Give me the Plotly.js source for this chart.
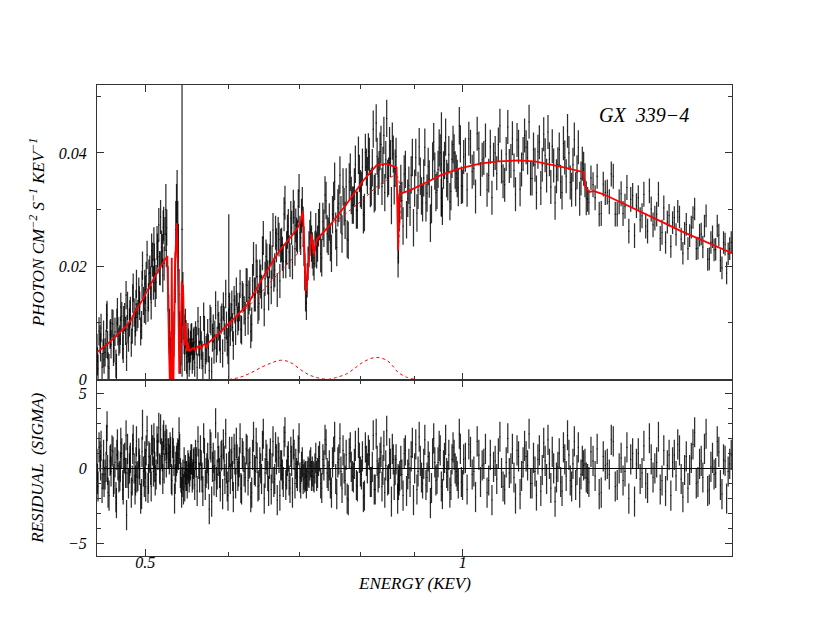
<!DOCTYPE html>
<html>
<head>
<meta charset="utf-8">
<script src="https://cdn.plot.ly/plotly-3.0.1.min.js"></script>
<style>
  body { margin: 0; background: #fff; }
  #spectrum { width: 830px; height: 642px; }
</style>
</head>
<body>
<div id="spectrum"></div>
<script>
// spectral bins, first grating: energy (keV), flux (photon cm^-2 s^-1 keV^-1), 1-sigma error, residual (sigma)
const binEnergy = [
    0.450, 0.451, 0.453, 0.454, 0.456, 0.457, 0.459, 0.460, 0.461, 0.463,
    0.464, 0.466, 0.467, 0.469, 0.470, 0.471, 0.473, 0.474, 0.476, 0.477,
    0.479, 0.480, 0.481, 0.483, 0.484, 0.486, 0.487, 0.489, 0.490, 0.491,
    0.493, 0.494, 0.496, 0.497, 0.499, 0.500, 0.501, 0.503, 0.504, 0.506,
    0.507, 0.509, 0.510, 0.511, 0.513, 0.514, 0.516, 0.517, 0.519, 0.520,
    0.521, 0.523, 0.524,
    0.5255, 0.527, 0.5285, 0.530, 0.5315, 0.533, 0.5345, 0.536, 0.5375, 0.539,
    0.5405, 0.542, 0.5435, 0.545, 0.5465, 0.548, 0.5495, 0.551, 0.5525, 0.554,
    0.5555,
    0.557, 0.559, 0.561, 0.563, 0.565, 0.567, 0.569, 0.571, 0.573, 0.575,
    0.577, 0.579, 0.581, 0.583, 0.585, 0.587, 0.589, 0.591, 0.593, 0.595,
    0.597, 0.599, 0.601, 0.603, 0.605, 0.607, 0.609, 0.611, 0.613, 0.615,
    0.617, 0.619,
    0.622, 0.6245, 0.627, 0.6295, 0.632, 0.6345, 0.637, 0.6395, 0.642, 0.6445,
    0.647, 0.6495, 0.652, 0.6545, 0.657, 0.6595, 0.662, 0.6645, 0.667, 0.6695,
    0.672, 0.6745, 0.677, 0.6795, 0.682, 0.6845, 0.687, 0.6895, 0.692, 0.6945,
    0.697, 0.6995, 0.702,
    0.7045, 0.707, 0.7095, 0.712, 0.7148, 0.7175, 0.720, 0.7228, 0.7255, 0.7283,
    0.7315, 0.735, 0.7385, 0.742, 0.7455, 0.749, 0.7525, 0.756, 0.7595, 0.763,
    0.7665, 0.770, 0.7735, 0.777, 0.7805, 0.784, 0.7875, 0.791, 0.7945, 0.798,
    0.8015, 0.805, 0.8085, 0.812, 0.8155, 0.819, 0.8225, 0.826, 0.8295, 0.833,
    0.8365, 0.840, 0.8435, 0.847, 0.8505, 0.854, 0.8575, 0.861, 0.8645,
    0.8675, 0.869, 0.8715,
    0.8755, 0.880, 0.8845, 0.889, 0.8935, 0.898, 0.9025, 0.907, 0.9115, 0.916,
    0.9205, 0.925, 0.9295, 0.934, 0.9385, 0.943, 0.9475, 0.952, 0.9565, 0.961,
    0.9655, 0.970, 0.9745, 0.979, 0.9835, 0.988, 0.9925, 0.997,
    1.002, 1.0095, 1.017, 1.0245, 1.032, 1.0395, 1.047, 1.0545, 1.062, 1.0695,
    1.077, 1.0845, 1.092, 1.0995, 1.107, 1.1145, 1.122, 1.1295, 1.137, 1.1445,
    1.152, 1.1595, 1.167, 1.1745, 1.182, 1.1895, 1.197, 1.2045, 1.212, 1.2195,
    1.227, 1.2345, 1.242, 1.2495, 1.257, 1.2645, 1.272, 1.2795, 1.287, 1.2945,
    1.302, 1.3095,
    1.317, 1.329, 1.341, 1.353, 1.365, 1.377, 1.389, 1.401, 1.413, 1.425,
    1.437, 1.449, 1.461, 1.473, 1.485, 1.497, 1.509, 1.521, 1.533, 1.545,
    1.557, 1.569, 1.581, 1.593, 1.605, 1.617, 1.629, 1.641, 1.653, 1.665,
    1.677, 1.689, 1.701, 1.713, 1.725, 1.737, 1.749, 1.761, 1.773, 1.785,
    1.797
];

const binFlux = [
    0.0056, 0.0019, 0.0071, 0.0091, 0.0046, 0.0035, 0.0063, 0.0114, 0.0023, 0.0079,
    0.0062, 0.0098, 0.0055, 0.0028, 0.0100, 0.0085, 0.0071, 0.0128, 0.0061, 0.0105,
    0.0086, 0.0040, 0.0130, 0.0101, 0.0121, 0.0088, 0.0162, 0.0085, 0.0133, 0.0110,
    0.0155, 0.0130, 0.0096, 0.0201, 0.0125, 0.0158, 0.0183, 0.0127, 0.0187, 0.0170,
    0.0228, 0.0171, 0.0210, 0.0158, 0.0241, 0.0217, 0.0197, 0.0287, 0.0227, 0.0269,
    0.0205, 0.0300, 0.0268,
    0.0160, 0.0085, 0.0040, 0.0070, 0.0035, 0.0120, 0.0265, 0.0310, 0.0225, 0.0080,
    0.0060, 0.0135, 0.0110, 0.0045, 0.0075, 0.0030, 0.0060, 0.0045, 0.0070, 0.0038,
    0.0062,
    0.0030, 0.0068, 0.0103, 0.0044, 0.0060, 0.0024, 0.0087, 0.0052, 0.0082, 0.0016,
    0.0103, 0.0074, 0.0053, 0.0131, 0.0068, 0.0094, 0.0054, 0.0109, 0.0129, 0.0074,
    0.0095, 0.0052, 0.0128, 0.0110, 0.0092, 0.0140, 0.0086, 0.0128, 0.0111, 0.0169,
    0.0087, 0.0145,
    0.0107, 0.0166, 0.0145, 0.0085, 0.0174, 0.0150, 0.0209, 0.0128, 0.0182, 0.0155,
    0.0250, 0.0178, 0.0210, 0.0152, 0.0232, 0.0207, 0.0185, 0.0259, 0.0158, 0.0247,
    0.0236, 0.0222, 0.0292, 0.0209, 0.0261, 0.0225, 0.0285, 0.0207, 0.0286, 0.0272,
    0.0252, 0.0333, 0.0250,
    0.0305, 0.0235, 0.0150, 0.0175, 0.0230, 0.0265, 0.0228, 0.0205, 0.0262, 0.0240,
    0.0279, 0.0215, 0.0267, 0.0316, 0.0253, 0.0242, 0.0291, 0.0350, 0.0233, 0.0311,
    0.0291, 0.0340, 0.0281, 0.0248, 0.0349, 0.0325, 0.0308, 0.0380, 0.0299, 0.0364,
    0.0334, 0.0291, 0.0401, 0.0360, 0.0394, 0.0340, 0.0442, 0.0331, 0.0394, 0.0370,
    0.0415, 0.0378, 0.0330, 0.0461, 0.0359, 0.0390, 0.0421, 0.0342, 0.0394,
    0.0300, 0.0240, 0.0310,
    0.0316, 0.0363, 0.0282, 0.0343, 0.0361, 0.0268, 0.0392, 0.0334, 0.0359, 0.0312,
    0.0410, 0.0329, 0.0354, 0.0309, 0.0420, 0.0330, 0.0371, 0.0400, 0.0306, 0.0387,
    0.0355, 0.0397, 0.0332, 0.0415, 0.0370, 0.0355, 0.0448, 0.0343,
    0.0393, 0.0335, 0.0411, 0.0373, 0.0434, 0.0354, 0.0391, 0.0335, 0.0411, 0.0388,
    0.0364, 0.0448, 0.0350, 0.0398, 0.0377, 0.0426, 0.0327, 0.0411, 0.0371, 0.0431,
    0.0392, 0.0355, 0.0406, 0.0330, 0.0419, 0.0379, 0.0396, 0.0437, 0.0340, 0.0378,
    0.0359, 0.0406, 0.0330, 0.0392, 0.0439, 0.0348, 0.0379, 0.0336, 0.0410, 0.0355,
    0.0372, 0.0320,
    0.0313, 0.0344, 0.0359, 0.0293, 0.0330, 0.0314, 0.0359, 0.0292, 0.0328, 0.0306,
    0.0262, 0.0325, 0.0307, 0.0282, 0.0327, 0.0262, 0.0301, 0.0285, 0.0327, 0.0260,
    0.0242, 0.0290, 0.0277, 0.0256, 0.0287, 0.0223, 0.0274, 0.0254, 0.0286, 0.0231,
    0.0255, 0.0234, 0.0289, 0.0213, 0.0252, 0.0230, 0.0255, 0.0197, 0.0239, 0.0222,
    0.0242
];

const binError = [
    0.0025, 0.0025, 0.0025, 0.0025, 0.0025, 0.0025, 0.0025, 0.0025, 0.0025, 0.0025,
    0.0025, 0.0025, 0.0025, 0.0025, 0.0025, 0.0025, 0.0025, 0.0025, 0.0025, 0.0025,
    0.0025, 0.0025, 0.0025, 0.0025, 0.0025, 0.0025, 0.0025, 0.0025, 0.0025, 0.0025,
    0.0025, 0.0025, 0.0025, 0.0025, 0.0025, 0.0025, 0.0025, 0.0025, 0.0025, 0.0030,
    0.0030, 0.0030, 0.0030, 0.0030, 0.0030, 0.0030, 0.0030, 0.0030, 0.0030, 0.0030,
    0.0030, 0.0045, 0.0032,
    0.0040, 0.0040, 0.0035, 0.0040, 0.0035, 0.0040, 0.0050, 0.0060, 0.0050, 0.0040,
    0.0035, 0.0040, 0.0040, 0.0030, 0.0030, 0.0030, 0.0030, 0.0028, 0.0028, 0.0028,
    0.0028,
    0.0025, 0.0025, 0.0025, 0.0025, 0.0025, 0.0025, 0.0025, 0.0025, 0.0025, 0.0025,
    0.0025, 0.0025, 0.0025, 0.0025, 0.0025, 0.0025, 0.0025, 0.0025, 0.0025, 0.0025,
    0.0025, 0.0025, 0.0025, 0.0025, 0.0025, 0.0025, 0.0025, 0.0025, 0.0025, 0.0025,
    0.0025, 0.0025,
    0.0030, 0.0030, 0.0030, 0.0030, 0.0030, 0.0030, 0.0030, 0.0030, 0.0030, 0.0030,
    0.0030, 0.0030, 0.0030, 0.0030, 0.0030, 0.0030, 0.0030, 0.0030, 0.0030, 0.0030,
    0.0030, 0.0030, 0.0030, 0.0030, 0.0030, 0.0030, 0.0030, 0.0030, 0.0030, 0.0030,
    0.0030, 0.0030, 0.0030,
    0.0035, 0.0035, 0.0030, 0.0030, 0.0032, 0.0032, 0.0032, 0.0030, 0.0032, 0.0032,
    0.0033, 0.0033, 0.0033, 0.0033, 0.0033, 0.0033, 0.0033, 0.0033, 0.0033, 0.0033,
    0.0033, 0.0033, 0.0033, 0.0033, 0.0033, 0.0033, 0.0033, 0.0033, 0.0033, 0.0033,
    0.0033, 0.0033, 0.0033, 0.0033, 0.0033, 0.0033, 0.0033, 0.0033, 0.0033, 0.0033,
    0.0033, 0.0033, 0.0033, 0.0033, 0.0033, 0.0033, 0.0033, 0.0033, 0.0033,
    0.0035, 0.0035, 0.0033,
    0.0033, 0.0033, 0.0033, 0.0033, 0.0033, 0.0033, 0.0033, 0.0033, 0.0033, 0.0033,
    0.0033, 0.0033, 0.0033, 0.0033, 0.0033, 0.0033, 0.0033, 0.0033, 0.0033, 0.0033,
    0.0033, 0.0033, 0.0033, 0.0033, 0.0033, 0.0033, 0.0033, 0.0033,
    0.0030, 0.0030, 0.0030, 0.0030, 0.0030, 0.0030, 0.0030, 0.0030, 0.0030, 0.0030,
    0.0030, 0.0030, 0.0030, 0.0030, 0.0030, 0.0030, 0.0030, 0.0030, 0.0030, 0.0030,
    0.0030, 0.0030, 0.0030, 0.0030, 0.0030, 0.0030, 0.0030, 0.0030, 0.0030, 0.0030,
    0.0030, 0.0030, 0.0030, 0.0030, 0.0030, 0.0030, 0.0030, 0.0030, 0.0030, 0.0030,
    0.0030, 0.0030,
    0.0022, 0.0022, 0.0022, 0.0022, 0.0022, 0.0022, 0.0022, 0.0022, 0.0022, 0.0022,
    0.0022, 0.0022, 0.0022, 0.0022, 0.0022, 0.0022, 0.0022, 0.0022, 0.0022, 0.0022,
    0.0020, 0.0020, 0.0020, 0.0020, 0.0020, 0.0020, 0.0020, 0.0020, 0.0020, 0.0020,
    0.0020, 0.0020, 0.0020, 0.0020, 0.0020, 0.0020, 0.0020, 0.0020, 0.0020, 0.0020,
    0.0020
];

const binResidual = [
    0.3, -1.2, 0.8, 1.5, -0.4, -0.9, 0.1, 2.8, -1.6, 0.5,
    -0.2, 1.1, -0.7, -1.9, 0.9, 0.2, -0.5, 1.7, -1.1, 0.6,
    -0.3, -3.1, 1.3, 0.0, 0.7, -0.8, 1.9, -1.4, 0.4, -0.6,
    1.0, -0.1, -1.7, 2.9, -0.9, 0.3, 1.2, -1.3, 0.8, -0.1,
    1.9, -0.2, 1.0, -0.8, 1.8, 0.9, 0.0, 2.6, 0.8, 1.9,
    0.0, 1.9, 1.6,
    1.0, 0.6, 1.1, -0.8, 1.0, -2.0, 0.1, 0.7, 0.9, 1.3,
    -0.6, -0.9, -1.4, -1.2, -0.5, -1.0, 0.0, -0.2, 0.6, -0.6,
    0.3,
    -1.1, 0.4, 1.8, -0.6, 0.2, -1.5, 1.0, -0.3, 0.7, -2.7,
    1.4, 0.1, -0.8, 3.0, -0.4, 0.5, -1.2, 0.9, 1.6, -0.7,
    0.0, -1.8, 1.1, 0.3, -0.5, 1.3, -1.0, 0.6, -0.2, 2.0,
    -1.4, 0.8,
    -0.6, 1.2, 0.3, -1.9, 0.9, -0.1, 1.7, -1.2, 0.4, -0.7,
    2.3, -0.3, 0.6, -1.5, 1.0, 0.0, -0.9, 1.4, -2.1, 0.7,
    0.2, -0.4, 1.8, -1.1, 0.5, -0.8, 1.1, -1.6, 0.9, 0.3,
    -0.5, 2.0, -1.0,
    0.4, -0.4, -0.5, -0.5, -0.3, 0.4, -0.2, -0.6, 0.7, -0.3,
    0.8, -1.3, 0.2, 1.6, -0.5, -1.0, 0.4, 2.1, -1.7, 0.6,
    -0.2, 1.2, -0.8, -2.0, 1.0, 0.1, -0.6, 1.5, -1.2, 0.7,
    -0.4, -1.9, 1.4, 0.0, 0.9, -0.9, 2.2, -1.4, 0.5, -0.3,
    1.1, -0.1, -1.6, 2.5, -0.7, 0.3, 1.3, -1.1, 0.6,
    -2.0, -1.1, -0.5,
    -0.4, 1.0, -1.5, 0.3, 0.8, -2.1, 1.6, -0.2, 0.5, -1.0,
    1.9, -0.6, 0.1, -1.3, 2.0, -0.8, 0.4, 1.2, -1.7, 0.7,
    -0.3, 0.9, -1.1, 1.4, 0.0, -0.5, 2.3, -0.9,
    0.6, -1.4, 1.1, -0.2, 1.8, -0.9, 0.3, -1.6, 0.9, 0.1,
    -0.7, 2.1, -1.2, 0.4, -0.3, 1.3, -2.0, 0.8, -0.5, 1.5,
    0.2, -1.0, 0.7, -1.8, 1.2, -0.1, 0.5, 1.9, -1.3, 0.0,
    -0.6, 1.0, -1.5, 0.6, 2.2, -0.8, 0.3, -1.1, 1.4, -0.4,
    0.2, -0.6,
    -0.9, 0.5, 1.3, -1.6, 0.2, -0.4, 1.8, -1.1, 0.7, -0.2,
    -2.0, 1.0, 0.3, -0.7, 1.5, -1.3, 0.6, 0.0, 2.1, -0.8,
    -1.5, 0.9, 0.4, -0.5, 1.2, -1.9, 0.8, -0.1, 1.6, -1.0,
    0.3, -0.6, 2.3, -1.4, 0.7, -0.3, 1.1, -1.7, 0.5, -0.2,
    0.9
];

// spectral bins, second grating (interleaved with the first)
const binEnergy2 = [
    0.4505, 0.452, 0.4535, 0.455, 0.4565, 0.458, 0.4595, 0.4605, 0.462, 0.4635,
    0.465, 0.4665, 0.468, 0.4695, 0.4705, 0.472, 0.4735, 0.475, 0.4765, 0.478,
    0.4795, 0.4805, 0.482, 0.4835, 0.485, 0.4865, 0.488, 0.4895, 0.4905, 0.492,
    0.4935, 0.495, 0.4965, 0.498, 0.4995, 0.5005, 0.502, 0.5035, 0.505, 0.5065,
    0.508, 0.5095, 0.5105, 0.512, 0.5135, 0.515, 0.5165, 0.518, 0.5195, 0.5205,
    0.522, 0.5235,
    0.5263, 0.5278, 0.5293, 0.5308, 0.5323, 0.5338, 0.5353, 0.5368, 0.5383, 0.5398,
    0.5413, 0.5428, 0.5443, 0.5458, 0.5473, 0.5488, 0.5503, 0.5518, 0.5533, 0.5548,
    0.5563,
    0.558, 0.560, 0.562, 0.564, 0.566, 0.568, 0.570, 0.572, 0.574, 0.576,
    0.578, 0.580, 0.582, 0.584, 0.586, 0.588, 0.590, 0.592, 0.594, 0.596,
    0.598, 0.600, 0.602, 0.604, 0.606, 0.608, 0.610, 0.612, 0.614, 0.616,
    0.618, 0.6205,
    0.6233, 0.6258, 0.6283, 0.6308, 0.6333, 0.6358, 0.6383, 0.6408, 0.6433, 0.6458,
    0.6483, 0.6508, 0.6533, 0.6558, 0.6583, 0.6608, 0.6633, 0.6658, 0.6683, 0.6708,
    0.6733, 0.6758, 0.6783, 0.6808, 0.6833, 0.6858, 0.6883, 0.6908, 0.6933, 0.6958,
    0.6983, 0.7008, 0.7033,
    0.7058, 0.7083, 0.7108, 0.7134, 0.7162, 0.7188, 0.7214, 0.7242, 0.7269, 0.7299,
    0.7333, 0.7368, 0.7403, 0.7438, 0.7473, 0.7508, 0.7543, 0.7578, 0.7613, 0.7648,
    0.7683, 0.7718, 0.7753, 0.7788, 0.7823, 0.7858, 0.7893, 0.7928, 0.7963, 0.7998,
    0.8033, 0.8068, 0.8103, 0.8138, 0.8173, 0.8208, 0.8243, 0.8278, 0.8313, 0.8348,
    0.8383, 0.8418, 0.8453, 0.8488, 0.8523, 0.8558, 0.8593, 0.8628,
    0.8683, 0.8703,
    0.8735, 0.8778, 0.8823, 0.8868, 0.8913, 0.8958, 0.9003, 0.9048, 0.9093, 0.9138,
    0.9183, 0.9228, 0.9273, 0.9318, 0.9363, 0.9408, 0.9453, 0.9498, 0.9543, 0.9588,
    0.9633, 0.9678, 0.9723, 0.9768, 0.9813, 0.9858, 0.9903, 0.9948,
    0.9995, 1.0058, 1.0133, 1.0208, 1.0283, 1.0358, 1.0433, 1.0508, 1.0583, 1.0658,
    1.0733, 1.0808, 1.0883, 1.0958, 1.1033, 1.1108, 1.1183, 1.1258, 1.1333, 1.1408,
    1.1483, 1.1558, 1.1633, 1.1708, 1.1783, 1.1858, 1.1933, 1.2008, 1.2083, 1.2158,
    1.2233, 1.2308, 1.2383, 1.2458, 1.2533, 1.2608, 1.2683, 1.2758, 1.2833, 1.2908,
    1.2983,
    1.3058, 1.3133,
    1.323, 1.335, 1.347, 1.359, 1.371, 1.383, 1.395, 1.407, 1.419, 1.431,
    1.443, 1.455, 1.467, 1.479, 1.491, 1.503, 1.515, 1.527, 1.539, 1.551,
    1.563, 1.575, 1.587, 1.599, 1.611, 1.623, 1.635, 1.647, 1.659, 1.671,
    1.683, 1.695, 1.707, 1.719, 1.731, 1.743, 1.755, 1.767, 1.779, 1.791
];

const binFlux2 = [
    0.0032, 0.0085, 0.0057, 0.0022, 0.0079, 0.0048, 0.0109, 0.0061, 0.0020, 0.0082,
    0.0099, 0.0049, 0.0084, 0.0020, 0.0119, 0.0067, 0.0086, 0.0112, 0.0054, 0.0110,
    0.0149, 0.0089, 0.0074, 0.0115, 0.0065, 0.0143, 0.0118, 0.0101, 0.0169, 0.0116,
    0.0140, 0.0085, 0.0167, 0.0139, 0.0169, 0.0122, 0.0220, 0.0145, 0.0189, 0.0136,
    0.0212, 0.0239, 0.0184, 0.0172, 0.0228, 0.0273, 0.0196, 0.0233, 0.0184, 0.0275,
    0.0257, 0.0228,
    0.0110, 0.0050, 0.0025, 0.0060, 0.0080, 0.0180, 0.0290, 0.0260, 0.0150, 0.0045,
    0.0105, 0.0150, 0.0080, 0.0090, 0.0040, 0.0070, 0.0035, 0.0058, 0.0072, 0.0045,
    0.0065,
    0.0078, 0.0021, 0.0066, 0.0087, 0.0043, 0.0111, 0.0035, 0.0056, 0.0055, 0.0107,
    0.0014, 0.0090, 0.0079, 0.0055, 0.0114, 0.0075, 0.0105, 0.0046, 0.0104, 0.0151,
    0.0066, 0.0101, 0.0084, 0.0132, 0.0060, 0.0124, 0.0155, 0.0103, 0.0128, 0.0089,
    0.0149, 0.0122,
    0.0167, 0.0109, 0.0151, 0.0097, 0.0213, 0.0150, 0.0182, 0.0134, 0.0173, 0.0223,
    0.0124, 0.0217, 0.0180, 0.0209, 0.0163, 0.0264, 0.0193, 0.0237, 0.0257, 0.0174,
    0.0238, 0.0209, 0.0312, 0.0232, 0.0271, 0.0211, 0.0268, 0.0305, 0.0231, 0.0256,
    0.0306, 0.0259, 0.0289,
    0.0270, 0.0190, 0.0135, 0.0205, 0.0250, 0.0240, 0.0215, 0.0230, 0.0228, 0.0268,
    0.0222, 0.0279, 0.0326, 0.0257, 0.0278, 0.0223, 0.0316, 0.0262, 0.0303, 0.0361,
    0.0257, 0.0305, 0.0340, 0.0246, 0.0366, 0.0308, 0.0340, 0.0299, 0.0396, 0.0337,
    0.0375, 0.0295, 0.0375, 0.0402, 0.0337, 0.0374, 0.0328, 0.0453, 0.0359, 0.0403,
    0.0341, 0.0431, 0.0388, 0.0355, 0.0413, 0.0307, 0.0398, 0.0373,
    0.0215, 0.0295,
    0.0346, 0.0271, 0.0371, 0.0320, 0.0304, 0.0392, 0.0338, 0.0294, 0.0411, 0.0324,
    0.0356, 0.0312, 0.0376, 0.0276, 0.0386, 0.0368, 0.0334, 0.0409, 0.0321, 0.0370,
    0.0428, 0.0349, 0.0314, 0.0389, 0.0400, 0.0364, 0.0339, 0.0416,
    0.0341, 0.0397, 0.0425, 0.0367, 0.0323, 0.0408, 0.0388, 0.0422, 0.0360, 0.0321,
    0.0400, 0.0415, 0.0376, 0.0344, 0.0446, 0.0386, 0.0369, 0.0423, 0.0336, 0.0398,
    0.0410, 0.0455, 0.0355, 0.0379, 0.0402, 0.0338, 0.0433, 0.0360, 0.0389, 0.0412,
    0.0312, 0.0380, 0.0349, 0.0417, 0.0359, 0.0400, 0.0335, 0.0424, 0.0366, 0.0319,
    0.0381,
    0.0352, 0.0318,
    0.0356, 0.0321, 0.0292, 0.0345, 0.0331, 0.0363, 0.0292, 0.0314, 0.0293, 0.0339,
    0.0318, 0.0254, 0.0321, 0.0289, 0.0271, 0.0333, 0.0273, 0.0292, 0.0249, 0.0303,
    0.0278, 0.0235, 0.0286, 0.0297, 0.0248, 0.0258, 0.0231, 0.0269, 0.0301, 0.0232,
    0.0257, 0.0271, 0.0212, 0.0242, 0.0229, 0.0271, 0.0210, 0.0242, 0.0188, 0.0231
];

const binError2 = [
    0.0025, 0.0025, 0.0025, 0.0025, 0.0025, 0.0025, 0.0025, 0.0025, 0.0025, 0.0025,
    0.0025, 0.0025, 0.0025, 0.0025, 0.0025, 0.0025, 0.0025, 0.0025, 0.0025, 0.0025,
    0.0025, 0.0025, 0.0025, 0.0025, 0.0025, 0.0025, 0.0025, 0.0025, 0.0025, 0.0025,
    0.0025, 0.0025, 0.0025, 0.0025, 0.0025, 0.0025, 0.0025, 0.0025, 0.0030, 0.0030,
    0.0030, 0.0030, 0.0030, 0.0030, 0.0030, 0.0030, 0.0030, 0.0030, 0.0030, 0.0030,
    0.0030, 0.0030,
    0.0040, 0.0035, 0.0035, 0.0035, 0.0040, 0.0045, 0.0055, 0.0055, 0.0045, 0.0035,
    0.0040, 0.0040, 0.0035, 0.0035, 0.0030, 0.0030, 0.0030, 0.0028, 0.0028, 0.0028,
    0.0028,
    0.0025, 0.0025, 0.0025, 0.0025, 0.0025, 0.0025, 0.0025, 0.0025, 0.0025, 0.0025,
    0.0025, 0.0025, 0.0025, 0.0025, 0.0025, 0.0025, 0.0025, 0.0025, 0.0025, 0.0025,
    0.0025, 0.0025, 0.0025, 0.0025, 0.0025, 0.0025, 0.0025, 0.0025, 0.0025, 0.0025,
    0.0025, 0.0025,
    0.0030, 0.0030, 0.0030, 0.0030, 0.0030, 0.0030, 0.0030, 0.0030, 0.0030, 0.0030,
    0.0030, 0.0030, 0.0030, 0.0030, 0.0030, 0.0030, 0.0030, 0.0030, 0.0030, 0.0030,
    0.0030, 0.0030, 0.0030, 0.0030, 0.0030, 0.0030, 0.0030, 0.0030, 0.0030, 0.0030,
    0.0030, 0.0030, 0.0030,
    0.0035, 0.0033, 0.0030, 0.0030, 0.0032, 0.0032, 0.0032, 0.0032, 0.0032, 0.0033,
    0.0033, 0.0033, 0.0033, 0.0033, 0.0033, 0.0033, 0.0033, 0.0033, 0.0033, 0.0033,
    0.0033, 0.0033, 0.0033, 0.0033, 0.0033, 0.0033, 0.0033, 0.0033, 0.0033, 0.0033,
    0.0033, 0.0033, 0.0033, 0.0033, 0.0033, 0.0033, 0.0033, 0.0033, 0.0033, 0.0033,
    0.0033, 0.0033, 0.0033, 0.0033, 0.0033, 0.0033, 0.0033, 0.0033,
    0.0035, 0.0033,
    0.0033, 0.0033, 0.0033, 0.0033, 0.0033, 0.0033, 0.0033, 0.0033, 0.0033, 0.0033,
    0.0033, 0.0033, 0.0033, 0.0033, 0.0033, 0.0033, 0.0033, 0.0033, 0.0033, 0.0033,
    0.0033, 0.0033, 0.0033, 0.0033, 0.0033, 0.0033, 0.0033, 0.0033,
    0.0030, 0.0030, 0.0030, 0.0030, 0.0030, 0.0030, 0.0030, 0.0030, 0.0030, 0.0030,
    0.0030, 0.0030, 0.0030, 0.0030, 0.0030, 0.0030, 0.0030, 0.0030, 0.0030, 0.0030,
    0.0030, 0.0030, 0.0030, 0.0030, 0.0030, 0.0030, 0.0030, 0.0030, 0.0030, 0.0030,
    0.0030, 0.0030, 0.0030, 0.0030, 0.0030, 0.0030, 0.0030, 0.0030, 0.0030, 0.0030,
    0.0030,
    0.0030, 0.0022,
    0.0022, 0.0022, 0.0022, 0.0022, 0.0022, 0.0022, 0.0022, 0.0022, 0.0022, 0.0022,
    0.0022, 0.0022, 0.0022, 0.0022, 0.0022, 0.0022, 0.0022, 0.0022, 0.0022, 0.0022,
    0.0020, 0.0020, 0.0020, 0.0020, 0.0020, 0.0020, 0.0020, 0.0020, 0.0020, 0.0020,
    0.0020, 0.0020, 0.0020, 0.0020, 0.0020, 0.0020, 0.0020, 0.0020, 0.0020, 0.0020
];

const binResidual2 = [
    -0.7, 1.4, 0.2, -1.3, 0.9, -0.4, 1.9, -0.1, -1.8, 0.6,
    1.2, -0.9, 0.4, -2.3, 1.6, -0.6, 0.1, 1.0, -1.4, 0.7,
    2.2, -0.3, -1.0, 0.5, -1.6, 1.3, 0.0, -0.8, 1.8, -0.5,
    0.3, -2.0, 1.1, -0.2, 0.8, -1.2, 2.5, -0.7, 0.7, -1.2,
    1.2, 2.0, 0.1, -0.4, 1.3, 2.7, -0.1, 1.0, -0.7, 2.2,
    1.5, 0.4,
    1.0, 1.4, -0.7, 1.7, 0.5, -0.7, 0.5, 1.0, 2.4, -0.3,
    -1.6, -0.4, 0.4, -0.1, -0.5, 0.2, -0.6, 0.2, 0.6, -0.4,
    0.4,
    0.9, -1.5, 0.3, 1.2, -0.6, 2.0, -1.1, 0.0, -0.4, 1.6,
    -2.2, 0.7, 0.2, -0.9, 1.4, -0.3, 0.8, -1.7, 0.5, 2.3,
    -1.2, 0.1, -0.7, 1.1, -1.9, 0.6, 1.7, -0.5, 0.4, -1.3,
    1.0, -0.2,
    1.3, -0.8, 0.4, -1.6, 2.1, -0.2, 0.7, -1.1, 0.0, 1.5,
    -2.0, 0.9, -0.5, 0.3, -1.4, 1.8, -0.7, 0.6, 1.1, -1.8,
    0.2, -0.9, 2.4, -0.4, 0.8, -1.3, 0.5, 1.6, -1.0, -0.3,
    1.2, -0.6, 0.1,
    -0.7, -0.6, -1.0, -0.2, 0.2, -0.5, -0.5, 0.0, -0.5, 0.5,
    -1.0, 0.6, 1.9, -0.3, 0.2, -1.6, 1.1, -0.7, 0.4, 2.0,
    -1.3, 0.0, 0.9, -2.1, 1.4, -0.5, 0.3, -1.1, 1.7, -0.2,
    0.8, -1.8, 0.5, 1.2, -0.9, 0.1, -1.4, 2.3, -0.6, 0.7,
    -1.2, 1.5, 0.2, -0.8, 1.0, -2.2, 0.6, -0.1,
    -0.7, -0.8,
    0.5, -1.8, 1.2, -0.4, -0.9, 1.7, 0.0, -1.4, 2.1, -0.6,
    0.3, -1.1, 0.8, -2.3, 1.0, 0.4, -0.7, 1.5, -1.2, 0.2,
    1.9, -0.5, -1.6, 0.6, 0.9, -0.2, -1.0, 1.3,
    -1.1, 0.7, 1.6, -0.4, -1.9, 0.9, 0.2, 1.3, -0.8, -2.1,
    0.5, 1.0, -0.3, -1.4, 2.0, 0.0, -0.6, 1.2, -1.7, 0.4,
    0.8, 2.3, -1.0, -0.2, 0.6, -1.5, 1.7, -0.7, 0.3, 1.1,
    -2.2, 0.1, -0.9, 1.4, -0.5, 0.9, -1.2, 1.8, -0.1, -1.6,
    0.5,
    0.3, -0.7,
    1.1, -0.5, -1.7, 0.8, 0.3, 1.9, -1.2, 0.0, -0.8, 1.4,
    0.6, -2.2, 1.0, -0.3, -1.0, 2.0, -0.6, 0.4, -1.4, 1.2,
    0.2, -1.8, 0.9, 1.6, -0.7, -0.1, -1.3, 0.7, 2.4, -0.9,
    0.5, 1.3, -1.5, 0.1, -0.4, 1.8, -1.1, 0.6, -2.0, 0.3
];

// bins with very large errors
const wideEnergy = [0.5418, 0.600, 0.9545];
const wideFlux = [0.0265, 0.0147, 0.0380];
const wideError = [0.0260, 0.0145, 0.0092];

// best-fit model
const modelEnergy = [
    0.450, 0.460, 0.470, 0.480, 0.486, 0.488, 0.495, 0.502, 0.510, 0.518,
    0.5247, 0.5265, 0.5275, 0.5290, 0.5298, 0.5305, 0.5318, 0.5335, 0.5356, 0.5370,
    0.5385, 0.5400, 0.5415, 0.5430, 0.5445, 0.5460, 0.5475, 0.5490, 0.5505, 0.5535,
    0.5560, 0.5580, 0.5600, 0.5630, 0.5650, 0.5670, 0.5700, 0.5720, 0.5740, 0.5800,
    0.5900, 0.5974, 0.6100, 0.6240, 0.6300, 0.6467, 0.6706, 0.6900, 0.6980, 0.7020,
    0.7056, 0.7100, 0.7188, 0.7223, 0.7275, 0.7480, 0.7760, 0.8045, 0.8284, 0.8470,
    0.8655, 0.8684, 0.8700, 0.8730, 0.8910, 0.9307, 0.9510, 0.9900, 1.038, 1.080,
    1.129, 1.170, 1.201, 1.250, 1.301, 1.305, 1.309, 1.315, 1.320, 1.330,
    1.360, 1.400, 1.450, 1.494, 1.550, 1.607, 1.700, 1.800
];
const modelFlux = [
    0.0048, 0.0062, 0.0078, 0.0095, 0.0108, 0.0118, 0.0135, 0.0157, 0.0180, 0.0202,
    0.0218, 0.0060, 0.0000, 0.0000, 0.0215, 0.0000, 0.0000, 0.0200, 0.0276, 0.0190,
    0.0010, 0.0060, 0.0172, 0.0165, 0.0060, 0.0100, 0.0050, 0.0065, 0.0050, 0.0054,
    0.0056, 0.0050, 0.0058, 0.0059, 0.0053, 0.0061, 0.0062, 0.0056, 0.0065, 0.0072,
    0.0085, 0.0095, 0.0112, 0.0131, 0.0143, 0.0181, 0.0228, 0.0256, 0.0269, 0.0280,
    0.0298, 0.0157, 0.0257, 0.0222, 0.0248, 0.0272, 0.0310, 0.0351, 0.0378, 0.0381,
    0.0374, 0.0228, 0.0322, 0.0328, 0.0334, 0.0351, 0.0360, 0.0372, 0.0381, 0.0385,
    0.0387, 0.0385, 0.0381, 0.0374, 0.0366, 0.0345, 0.0337, 0.0333, 0.0331, 0.0333,
    0.0327, 0.0316, 0.0303, 0.0292, 0.0277, 0.0263, 0.0243, 0.0223
];

// continuum without the two emission lines
const contEnergy = [0.600, 0.620, 0.640, 0.660, 0.680, 0.700, 0.7056, 0.710, 0.7188,
    0.7223, 0.7275, 0.748, 0.776, 0.8045, 0.8284, 0.847, 0.8655, 0.8684];
const contFlux = [0.0095, 0.0121, 0.0148, 0.0176, 0.0202, 0.0226, 0.0236, 0.0150, 0.0250,
    0.0217, 0.0244, 0.0270, 0.0294, 0.0318, 0.0340, 0.0352, 0.0360, 0.0225];

// emission line components
const line1Energy = [0.600, 0.615, 0.630, 0.645, 0.660, 0.672, 0.685, 0.700, 0.712, 0.725, 0.745];
const line1Flux = [0.0, 0.0004, 0.0012, 0.0022, 0.0030, 0.0034, 0.0031, 0.0019, 0.0010, 0.0004, 0.0];
const line2Energy = [0.745, 0.760, 0.776, 0.790, 0.805, 0.827, 0.847, 0.860, 0.868, 0.885, 0.904];
const line2Flux = [0.0, 0.0004, 0.0010, 0.0020, 0.0031, 0.0039, 0.0034, 0.0022, 0.0013, 0.0004, 0.0];

const serif = "Liberation Serif, Times New Roman, serif";
const textFont = { family: serif, size: 17, color: "#000", style: "italic" };
const tickFont = { ...textFont, size: 16 };
const barColor = "rgba(0,0,0,0.82)";
const barWidth = 1.25;

function points(x, y, err, xa, ya) {
    return {
        x: x, y: y, xaxis: xa, yaxis: ya,
        mode: "markers",
        marker: { size: 1.2, color: "#000" },
        error_y: Array.isArray(err)
            ? { type: "data", array: err, color: barColor, thickness: barWidth, width: 0 }
            : { type: "constant", value: err, color: barColor, thickness: barWidth, width: 0 },
    };
}

function dotted(x, y) {
    return {
        x: x, y: y, xaxis: "x", yaxis: "y",
        mode: "lines",
        line: { color: "#ff0000", width: 1, dash: "dot", shape: "spline" },
        hoverinfo: "skip",
    };
}

function plotSpectrum() {
    const frame = {
        showline: true, linecolor: "#333", linewidth: 1, mirror: "ticks",
        ticks: "inside", ticklen: 7, tickwidth: 1, tickcolor: "#333",
        showgrid: false, zeroline: false, tickfont: tickFont,
    };
    const xRange = [Math.log10(0.45), Math.log10(1.8)];
    const xMinor = { tickmode: "array", tickvals: [0.6, 0.7, 0.8, 0.9], ticks: "inside", ticklen: 4, tickcolor: "#333" };

    const traces = [
        points(binEnergy, binFlux, binError, "x", "y"),
        points(binEnergy2, binFlux2, binError2, "x", "y"),
        points(wideEnergy, wideFlux, wideError, "x", "y"),
        dotted(contEnergy, contFlux),
        dotted(line1Energy, line1Flux),
        dotted(line2Energy, line2Flux),
        {
            x: modelEnergy, y: modelFlux, xaxis: "x", yaxis: "y",
            mode: "lines",
            line: { color: "#ff0000", width: 1.8 },
        },
        points(binEnergy, binResidual, 1, "x2", "y2"),
        points(binEnergy2, binResidual2, 1, "x2", "y2"),
    ];

    const layout = {
        width: 830, height: 642,
        margin: { l: 97, r: 98, t: 85, b: 86 },
        paper_bgcolor: "#fff", plot_bgcolor: "#fff",
        showlegend: false,
        xaxis: {
            ...frame, type: "log", range: xRange, anchor: "y",
            tickvals: [0.5, 1], showticklabels: false, minor: xMinor,
        },
        yaxis: {
            ...frame, domain: [0.3747, 1], range: [0, 0.052], anchor: "x",
            tickvals: [0, 0.02, 0.04], ticktext: ["0", "0.02", "0.04"],
            ticklabelstandoff: 6,
            minor: { tickmode: "array", tickvals: [0.01, 0.03, 0.05], ticks: "inside", ticklen: 4, tickcolor: "#333" },
        },
        xaxis2: {
            ...frame, type: "log", range: xRange, anchor: "y2", matches: "x",
            tickvals: [0.5, 1], ticktext: ["0.5", "1"], ticklabelstandoff: -8,
            minor: xMinor,
        },
        yaxis2: {
            ...frame, domain: [0, 0.3747], range: [-5.81, 5.9], anchor: "x2",
            tickvals: [-5, 0, 5], ticktext: ["\u22125", "0", "5"],
            ticklabelstandoff: 6,
            zeroline: true, zerolinecolor: "#000", zerolinewidth: 1,
            minor: { tickmode: "array", tickvals: [-4, -3, -2, -1, 1, 2, 3, 4], ticks: "inside", ticklen: 4, tickcolor: "#333" },
        },
        annotations: [
            {
                text: "GX\u00a0\u00a0339\u22124", xref: "paper", yref: "paper",
                x: 0.8614, y: 0.9363, xanchor: "center", yanchor: "middle",
                showarrow: false, font: { ...textFont, size: 20 },
            },
            {
                text: "PHOTON CM<sup>\u22122</sup> S<sup>\u22121</sup> KEV<sup>\u22121</sup>",
                xref: "paper", yref: "paper", x: -0.094, y: 0.688,
                xanchor: "center", yanchor: "middle", textangle: -90,
                showarrow: false, font: textFont,
            },
            {
                text: "RESIDUAL\u00a0\u00a0(SIGMA)",
                xref: "paper", yref: "paper", x: -0.093, y: 0.187,
                xanchor: "center", yanchor: "middle", textangle: -90,
                showarrow: false, font: textFont,
            },
            {
                text: "ENERGY\u00a0(KEV)",
                xref: "paper", yref: "paper", x: 0.5, y: -0.058,
                xanchor: "center", yanchor: "middle",
                showarrow: false, font: textFont,
            },
        ],
    };

    Plotly.newPlot("spectrum", traces, layout, { displayModeBar: false, responsive: false });
}

plotSpectrum();
</script>
</body>
</html>
